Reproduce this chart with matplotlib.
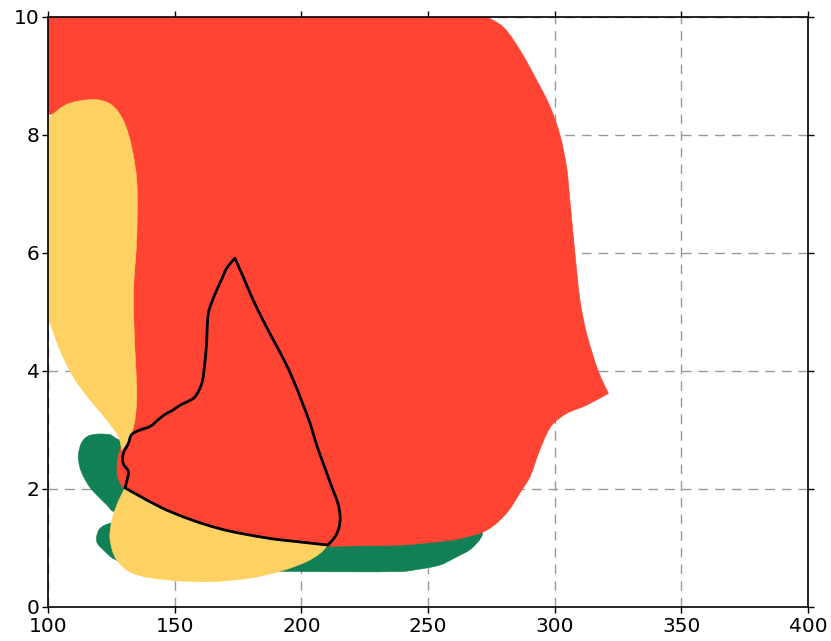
import matplotlib
matplotlib.use("Agg")
import numpy as np
import matplotlib.pyplot as plt
from matplotlib.patches import PathPatch
from matplotlib.path import Path

# Region outlines (x, y) in data coordinates
green_low_x = [119.2, 120.5, 123.8, 130, 170, 205, 240, 262, 271, 267.9, 260, 254.7, 245, 239.6,
               200, 180, 150, 131, 125.8, 121.8, 119.5]
green_low_y = [1.19, 1.33, 1.41, 1.45, 1.3, 1.2, 1.2, 1.25, 1.3, 1.02, 0.82, 0.71, 0.63, 0.60,
               0.60, 0.62, 0.68, 0.75, 0.82, 0.97, 1.08]

green_up_x = [126.4, 124.5, 119.2, 115.5, 113.2, 112.0, 112.5, 113.9, 116.5, 119.2, 123, 126.4,
              128.5, 131, 131, 129]
green_up_y = [2.87, 2.92, 2.93, 2.89, 2.78, 2.58, 2.38, 2.22, 2.03, 1.90, 1.74, 1.62,
              1.80, 2.05, 2.6, 2.8]

red_x = [100, 273.2, 279.7, 286.3, 292.9, 298, 302.1, 304.7, 306, 307.1, 308, 310, 312.6,
         317.2, 321.2, 312.6, 304.7, 299.5, 296.9, 293.6, 290.3, 287, 281, 273.1, 262.6,
         254.7, 239.6, 225, 212.9, 210.5, 200, 186.4, 166.7, 147, 130.4,
         128.5, 127.3, 127.5, 128.8, 131, 132, 132, 131, 128, 120, 100]
red_y = [10, 10, 9.83, 9.44, 8.93, 8.5, 8.0, 7.46, 6.9, 6.4, 6.0, 5.2, 4.64,
         4.0, 3.62, 3.42, 3.28, 3.11, 2.94, 2.6, 2.21, 1.98, 1.59, 1.3, 1.16,
         1.11, 1.05, 1.04, 1.03, 1.03, 1.08, 1.15, 1.32, 1.62, 2.0,
         2.1, 2.27, 2.5, 2.7, 2.95, 3.5, 5.0, 7.0, 8.0, 8.3, 8.35]
red_corners = [0, 1, 14, 45]

yellow_up_x = [100, 104.7, 108, 112.6, 119.2, 125.1, 129.7, 133, 135, 135.2, 134.8, 134,
               133.7, 134, 134.3, 134.9, 135, 134.3, 133, 131.2, 129.1,
               127.8, 123.2, 116.6, 110, 104.7, 100]
yellow_up_y = [8.28, 8.45, 8.53, 8.58, 8.6, 8.51, 8.25, 7.8, 7.24, 6.6, 6.05, 5.6,
               5.2, 4.7, 4.36, 3.85, 3.5, 3.17, 2.95, 2.78, 2.66,
               2.89, 3.17, 3.51, 3.9, 4.36, 4.92]
yellow_up_corners = [0, 20, 26]

yellow_low_x = [130.4, 147, 166.7, 186.4, 200, 210.5, 207.4, 202.1, 192.8, 179.7, 164, 147,
                133.6, 127.1, 124.5, 125, 126.4, 128.4]
yellow_low_y = [2.02, 1.64, 1.34, 1.17, 1.10, 1.05, 0.91, 0.77, 0.62, 0.49, 0.43, 0.46,
                0.57, 0.80, 1.14, 1.42, 1.64, 1.85]
yellow_low_corners = [0, 5]

outline_x = [130.4, 147, 166.7, 186.4, 200, 210.5, 213.3, 214.9, 215.3, 214.5, 212.5, 208.6,
             206, 203.4, 200.5, 196.8, 193, 188.9, 185, 181, 177, 173.8, 170.5, 168.5,
             166.6, 164.5, 163.3, 162.8, 162.6, 161.8, 160.7, 158, 155, 152.1, 149.4,
             146.8, 144.2, 140.3, 136.3, 133, 131.7, 129.7, 129.7, 131.7, 131.2]
outline_y = [2.02, 1.64, 1.34, 1.17, 1.10, 1.05, 1.19, 1.35, 1.53, 1.75, 1.98, 2.44,
             2.75, 3.12, 3.45, 3.85, 4.2, 4.53, 4.85, 5.2, 5.6, 5.91, 5.74, 5.55,
             5.37, 5.15, 4.98, 4.7, 4.47, 4.1, 3.79, 3.56, 3.48, 3.42, 3.34,
             3.28, 3.2, 3.06, 3.0, 2.92, 2.77, 2.6, 2.43, 2.3, 2.15]
outline_corners = [0, 5, 21]

x_ticks = [100, 150, 200, 250, 300, 350, 400]
y_ticks = [0, 2, 4, 6, 8, 10]

RED = "#ff4433"
YELLOW = "#fdd262"
GREEN = "#118055"

# pixel size of one data unit, used to shape the curves evenly
SX, SY = 760 / 300, 590 / 10


def smooth_path(xs, ys, corners=()):
    """Closed path through the points, joined by cubic Bezier segments."""
    p = np.column_stack([np.asarray(xs, float) * SX, np.asarray(ys, float) * SY])
    n = len(p)
    tang = np.zeros_like(p)
    for i in range(n):
        if i in corners:
            continue
        d = p[(i + 1) % n] - p[i - 1]
        nd = np.hypot(*d)
        if nd > 0:
            tang[i] = d / nd
    verts = [p[0]]
    codes = [Path.MOVETO]
    for i in range(n):
        a, b = p[i], p[(i + 1) % n]
        L = np.hypot(*(b - a)) / 3.0
        verts += [a + tang[i] * L, b - tang[(i + 1) % n] * L, b]
        codes += [Path.CURVE4] * 3
    verts = np.array(verts)
    verts[:, 0] /= SX
    verts[:, 1] /= SY
    verts = np.vstack([verts, verts[:1]])
    codes.append(Path.CLOSEPOLY)
    return Path(verts, codes)


fig = plt.figure(figsize=(8.31, 6.41), dpi=100)
ax = fig.add_axes([48 / 831, 34 / 641, 760 / 831, 590 / 641])

for xs, ys, crn, col, z in [
    (green_low_x, green_low_y, (), GREEN, 1),
    (green_up_x, green_up_y, (), GREEN, 1),
    (red_x, red_y, red_corners, RED, 2),
    (yellow_up_x, yellow_up_y, yellow_up_corners, YELLOW, 3),
    (yellow_low_x, yellow_low_y, yellow_low_corners, YELLOW, 3),
]:
    ax.add_patch(PathPatch(smooth_path(xs, ys, crn), facecolor=col, edgecolor=col,
                           linewidth=0.4, zorder=z))

ax.add_patch(PathPatch(smooth_path(outline_x, outline_y, outline_corners), facecolor="none",
                       edgecolor="black", linewidth=2.0, zorder=5, joinstyle="round"))

ax.set_xlim(100, 400)
ax.set_ylim(0, 10)
ax.set_xticks(x_ticks)
ax.set_yticks(y_ticks)
ax.set_xticklabels([str(v) for v in x_ticks])
ax.set_yticklabels([str(v) for v in y_ticks])

ax.grid(True, color="#9a9a9a", linestyle=(0, (7, 5)), linewidth=1.0, zorder=0)
ax.set_axisbelow(True)

for s in ax.spines.values():
    s.set_linewidth(1.2)
    s.set_color("black")
    s.set_zorder(6)

ax.tick_params(axis="both", which="both", direction="out", length=4, width=1.0,
               labelsize=14.5, top=True, right=True, pad=2)
ax.tick_params(axis="x", pad=3)

fig.savefig("out.png", dpi=100)
